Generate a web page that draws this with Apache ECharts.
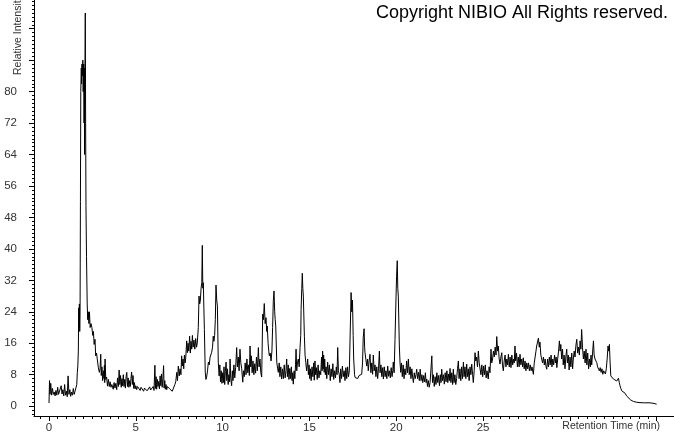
<!DOCTYPE html>
<html>
<head>
<meta charset="utf-8">
<script src="https://cdn.jsdelivr.net/npm/echarts@6/dist/echarts.min.js"></script>
<style>html,body{margin:0;padding:0;background:#fff}#c{width:674px;height:434px}</style>
</head>
<body>
<div id="c"></div>
<script>
// Retention time (min), relative intensity
const segStart = [[0,0.8],[0.03,6.5],[0.06,3.0],[0.1,5.8],[0.15,2.8],[0.2,4.5],[0.25,3.0],[0.3,3.6],[0.35,2.6],[0.4,4.0],[0.45,2.8],[0.5,4.8],[0.55,3.0],[0.6,3.5],[0.65,2.5],[0.7,5.2],[0.75,3.1],[0.8,4.2],[0.85,2.6],[0.9,5.5],[0.95,2.8],[1.0,3.8],[1.05,2.4],[1.1,7.7],[1.15,3.0],[1.2,4.2],[1.25,2.5],[1.3,3.6],[1.35,2.8],[1.4,4.5],[1.45,3.0],[1.5,3.8],[1.55,3.3],[1.6,5.5],[1.63,8.5],[1.66,10.2],[1.69,14],[1.71,25],[1.73,20],[1.75,26],[1.77,19],[1.79,24],[1.81,52],[1.83,80],[1.86,86],[1.88,82],[1.9,87],[1.92,84],[1.95,88],[1.97,80],[2.0,87],[2.02,72],[2.04,86],[2.05,64],[2.07,84],[2.09,100],[2.11,72],[2.13,51],[2.16,38],[2.2,26],[2.23,22],[2.26,24],[2.3,21],[2.33,24],[2.37,20],[2.42,21],[2.47,20],[2.52,18],[2.56,19]];
const segEarly = [[2.6,15.7],[2.65,17],[2.69,12.8],[2.74,13.5],[2.78,12],[2.84,9.9],[2.9,8.6],[2.94,9.5],[2.98,13.2],[3.01,7.8],[3.05,10],[3.09,6.5],[3.13,9],[3.17,7],[3.19,10.4],[3.21,6],[3.23,12],[3.27,6.8],[3.32,7.4],[3.37,5.1],[3.42,6.8],[3.47,5.0],[3.52,6.2],[3.57,4.8],[3.62,5.5],[3.7,4.3],[3.75,6.0],[3.8,4.6],[3.85,5.8],[3.9,4.2],[3.95,7.2],[4.0,5.0],[4.04,9.2],[4.08,5.5],[4.12,7.8],[4.16,4.8],[4.2,7.0],[4.24,5.2],[4.28,8.0],[4.32,5.0],[4.36,6.8],[4.4,4.6],[4.44,7.5],[4.48,8.6],[4.52,5.0],[4.56,7.2],[4.6,4.8],[4.64,6.5],[4.68,5.0],[4.72,7.0],[4.76,8.7],[4.8,5.5],[4.84,7.8],[4.88,4.5],[4.92,6.0],[4.96,4.4],[5.0,5.2],[5.05,4.2],[5.1,5.0],[5.15,4.5],[5.2,5.2],[5.25,4.0],[5.3,4.8],[5.35,4.3],[5.4,5.0],[5.45,3.8],[5.5,4.6],[5.55,4.2],[5.6,4.8],[5.65,3.9],[5.7,4.4],[5.75,4.0],[5.8,4.9],[5.85,4.1],[5.9,4.6],[5.95,4.2],[6.0,5.0],[6.05,4.0],[6.1,10.4],[6.13,4.5],[6.17,7.5],[6.2,4.3],[6.24,6.8],[6.28,5.0],[6.32,6.3],[6.36,4.4],[6.4,7.7],[6.44,5.2],[6.48,8.2],[6.52,4.8],[6.56,7.0],[6.6,10.3],[6.63,4.6],[6.67,6.5],[6.7,4.3],[6.74,5.5],[6.78,4.2],[6.82,5.0],[6.86,4.6],[6.9,5.2],[6.95,4.4],[7.0,4.8],[7.05,4.2],[7.1,3.8],[7.16,3.4],[7.2,4.2],[7.25,5.5],[7.3,6.2],[7.36,8.6],[7.4,6.5],[7.45,10.2],[7.5,7.7],[7.55,9.5],[7.6,8.0],[7.64,12.8],[7.68,10.2],[7.72,12.0],[7.76,9.5],[7.8,13.0],[7.84,11.0],[7.88,12.5],[7.93,16.6],[7.97,13.6],[8.01,16.0],[8.05,14.0],[8.1,17.8],[8.14,13.5],[8.18,16.5],[8.22,14.5],[8.26,18.0],[8.3,15.0],[8.35,16.8],[8.4,14.5],[8.45,17.2],[8.5,15.0],[8.54,16.0]];
const segMid = [[8.6,20],[8.64,28],[8.68,26],[8.72,27],[8.76,30],[8.8,31.4],[8.83,40.9],[8.86,30],[8.89,31.4],[8.92,25],[8.95,19.5],[9.0,8.6],[9.04,6.8],[9.08,7.4],[9.13,9.0],[9.18,11.2],[9.23,10.5],[9.28,12.5],[9.33,12.0],[9.37,13.7],[9.42,15.0],[9.46,17.8],[9.5,16.5],[9.54,18.0],[9.58,22],[9.62,30.8],[9.66,27],[9.7,25.5],[9.75,11.2],[9.8,7.7],[9.84,10.5],[9.88,6.2],[9.92,9.0],[9.96,5.8],[10.0,8.5],[10.04,6.0],[10.08,10.0],[10.12,5.5],[10.16,8.8],[10.2,11.2],[10.24,6.5],[10.28,9.5],[10.32,5.5],[10.36,8.0],[10.4,6.2],[10.43,12.0],[10.47,7.0],[10.52,5.2],[10.56,9.0],[10.6,6.5],[10.65,10.5],[10.7,7.2],[10.75,9.8],[10.81,14.9],[10.85,10.0],[10.9,12.5],[10.95,9.0],[11.0,14.5],[11.05,11.0],[11.1,9.5],[11.16,6.1],[11.2,9.0],[11.25,7.5],[11.3,11.0],[11.35,8.0],[11.4,12.0],[11.45,8.5],[11.5,10.5],[11.54,7.8],[11.58,15.3],[11.62,10.0],[11.66,12.8],[11.7,8.5],[11.75,11.5],[11.8,8.0],[11.85,10.8],[11.9,8.4],[11.95,12.5],[12.0,9.0],[12.06,14.9],[12.1,10.0],[12.15,12.0],[12.2,8.5],[12.25,7.4],[12.31,23.4],[12.35,22.0],[12.4,26.1],[12.45,21.0],[12.5,22.5],[12.54,19.0],[12.57,20.4],[12.62,16.0],[12.66,14.0],[12.69,12.8],[12.74,13.5],[12.79,11.5],[12.84,14.0],[12.88,20.0],[12.92,26.7],[12.96,29.3],[13.0,24.0],[13.03,22.0],[13.06,20.4],[13.12,11.2],[13.17,9.5],[13.21,8.6],[13.26,11.0],[13.3,7.5],[13.35,10.0],[13.4,6.9],[13.45,9.5],[13.5,7.0],[13.55,10.5],[13.6,7.2],[13.65,9.0],[13.69,12.0],[13.73,7.5],[13.78,10.5],[13.82,6.8],[13.87,9.6],[13.92,7.0],[13.96,10.0]];
const segLate = [[14.0,6.5],[14.04,8.5],[14.07,5.6],[14.12,9.0],[14.16,7.0],[14.2,10.5],[14.23,14.5],[14.27,9.0],[14.31,11.0],[14.36,12.0],[14.41,10.0],[14.46,14.9],[14.5,18],[14.52,24.6],[14.56,30],[14.59,33.8],[14.62,30],[14.65,28.0],[14.71,17.8],[14.75,13.0],[14.79,11.1],[14.84,9.0],[14.9,12.0],[14.94,8.0],[14.98,10.5],[15.02,7.0],[15.06,9.5],[15.1,6.5],[15.15,10.0],[15.2,7.5],[15.25,11.0],[15.28,6.6],[15.32,11.5],[15.36,8.0],[15.4,9.8],[15.45,6.8],[15.5,10.5],[15.55,7.2],[15.6,9.0],[15.65,8.0],[15.7,12.5],[15.73,9.0],[15.76,14.0],[15.79,9.5],[15.82,13.0],[15.85,8.6],[15.88,12.0],[15.92,8.0],[15.96,10.0],[16.0,7.0],[16.05,11.2],[16.1,8.0],[16.15,10.5],[16.2,6.5],[16.25,9.5],[16.3,7.5],[16.35,10.8],[16.4,6.8],[16.45,9.0],[16.5,7.2],[16.55,10.0],[16.59,8.0],[16.63,14.9],[16.67,9.0],[16.72,8.0],[16.76,6.0],[16.8,9.5],[16.85,7.0],[16.9,10.2],[16.95,7.5],[17.0,9.0],[17.05,6.5],[17.1,9.8],[17.15,7.0],[17.2,10.0],[17.25,7.5],[17.3,9.0],[17.35,8.5],[17.4,28.9],[17.44,24.0],[17.48,27.0],[17.52,18.0],[17.55,12.0],[17.6,8.0],[17.63,7.3],[17.7,7.6],[17.78,7.0],[17.86,7.8],[17.94,7.4],[18.01,8.1],[18.06,11.0],[18.1,17.5],[18.15,19.7],[18.18,15.0],[18.2,13.7],[18.25,12.0],[18.3,10.2],[18.35,12.0],[18.39,9.0],[18.44,11.5],[18.49,13.2],[18.54,8.5],[18.59,11.0],[18.64,8.1],[18.68,13.0],[18.73,9.0],[18.78,10.5],[18.83,7.5],[18.88,10.0],[18.93,7.0],[18.98,9.5],[19.03,14.0],[19.07,8.5],[19.12,10.5],[19.17,7.5],[19.22,9.8],[19.26,6.9],[19.31,10.0],[19.36,7.5],[19.41,9.0],[19.46,7.0],[19.51,10.2],[19.56,7.6],[19.61,9.0],[19.66,7.2],[19.71,9.8],[19.76,7.5],[19.8,9.0],[19.83,11.2],[19.88,8.5],[19.93,17.0],[19.99,28.0],[20.02,33],[20.06,37.0],[20.09,30],[20.12,28.0],[20.18,15.3],[20.22,11.0],[20.26,8.6]];
const segTail = [[20.3,11.0],[20.35,7.5],[20.4,10.5],[20.45,7.0],[20.5,9.5],[20.55,8.0],[20.6,11.5],[20.65,8.5],[20.7,12.0],[20.75,8.0],[20.8,10.0],[20.85,7.0],[20.9,9.5],[20.95,7.2],[20.99,6.0],[21.04,8.5],[21.09,7.0],[21.14,8.0],[21.18,9.4],[21.23,7.0],[21.28,8.6],[21.33,6.5],[21.38,9.4],[21.43,6.5],[21.48,8.0],[21.53,6.0],[21.58,7.8],[21.63,6.2],[21.68,8.5],[21.72,6.0],[21.76,6.9],[21.8,5.0],[21.85,6.5],[21.9,4.8],[21.95,6.0],[22.0,5.5],[22.05,12.8],[22.09,6.0],[22.14,8.0],[22.19,5.0],[22.24,7.5],[22.29,5.5],[22.34,8.5],[22.39,6.0],[22.44,7.8],[22.49,5.2],[22.54,8.0],[22.58,6.0],[22.62,9.4],[22.67,6.5],[22.72,8.0],[22.77,5.6],[22.82,8.5],[22.87,6.2],[22.92,9.0],[22.97,6.0],[23.02,8.2],[23.06,6.5],[23.1,9.6],[23.15,6.0],[23.2,8.5],[23.25,5.5],[23.29,9.4],[23.33,6.0],[23.38,8.0],[23.43,5.5],[23.48,7.0],[23.53,9.5],[23.58,11.5],[23.62,7.0],[23.67,9.5],[23.72,6.5],[23.77,10.0],[23.82,7.0],[23.87,11.2],[23.91,7.5],[23.96,10.0],[24.01,7.0],[24.06,10.7],[24.1,7.5],[24.15,9.5],[24.2,6.5],[24.25,10.0],[24.3,8.0],[24.35,10.7],[24.4,8.0],[24.44,6.0],[24.49,9.0],[24.54,13.6],[24.58,11.5],[24.63,12.5],[24.68,10.0],[24.73,14.0],[24.78,11.0],[24.83,10.7],[24.88,8.0],[24.93,10.5],[24.98,7.5],[25.03,10.2],[25.08,8.0],[25.13,10.5],[25.18,7.2],[25.23,9.0],[25.3,6.9],[25.35,10.0],[25.4,8.5],[25.46,14.5],[25.5,11.0],[25.55,12.0],[25.6,14.0],[25.65,12.5],[25.7,15.0],[25.75,13.0],[25.79,17.7],[25.84,14.0],[25.88,15.3],[25.93,12.0],[25.98,10.7]];
const segHump = [[26.03,12.5],[26.08,13.6],[26.12,10.5],[26.17,9.0],[26.22,11.5],[26.27,13.0],[26.32,10.0],[26.37,12.0],[26.42,10.5],[26.46,13.2],[26.51,10.0],[26.56,12.5],[26.61,9.8],[26.66,13.0],[26.71,10.5],[26.76,12.0],[26.8,11.0],[26.84,15.3],[26.88,11.5],[26.93,13.5],[26.98,10.0],[27.03,12.5],[27.08,10.0],[27.13,13.2],[27.18,10.5],[27.23,12.0],[27.28,10.0],[27.32,12.3],[27.37,9.5],[27.42,11.5],[27.47,9.0],[27.52,11.0],[27.57,9.5],[27.62,11.0],[27.67,9.0],[27.72,10.5],[27.77,9.0],[27.82,10.0],[27.9,8.1],[27.95,11.0],[28.0,12.5],[28.05,14.0],[28.09,15.3],[28.14,15.0],[28.19,17.3],[28.24,15.0],[28.28,16.3],[28.33,13.0],[28.38,13.2],[28.43,11.0],[28.48,12.5],[28.53,10.5],[28.58,12.0],[28.63,10.0],[28.67,9.4],[28.72,12.0],[28.77,10.0],[28.82,12.5],[28.87,10.5],[28.92,13.0],[28.97,10.0],[29.02,12.0],[29.07,10.5],[29.12,13.0],[29.17,11.0],[29.21,12.5],[29.25,9.8],[29.3,12.0],[29.35,14.0],[29.4,16.6],[29.44,14.0],[29.48,15.7],[29.53,12.0],[29.58,14.5],[29.62,10.5],[29.67,13.0],[29.72,9.5],[29.77,12.5],[29.82,14.5],[29.86,11.0],[29.91,13.0],[29.96,9.2],[30.01,12.5],[30.06,10.0],[30.11,13.5],[30.16,9.5],[30.2,12.0],[30.25,14.0],[30.3,12.5],[30.35,15.5],[30.4,17.0],[30.45,13.5],[30.5,15.0],[30.55,13.0],[30.59,16.6],[30.64,14.5],[30.68,19.5],[30.73,15.0],[30.78,12.0],[30.83,14.0],[30.88,11.0],[30.93,14.5],[30.98,10.5],[31.03,13.5],[31.08,9.5],[31.13,12.0],[31.18,10.0],[31.22,13.0],[31.26,10.5],[31.31,13.5],[31.36,16.6],[31.4,13.0],[31.45,12.0],[31.5,11.5],[31.55,11.1],[31.6,10.0],[31.65,10.5],[31.7,9.0],[31.75,9.8],[31.8,8.6],[31.85,9.5],[31.9,8.1],[31.95,9.0],[32.0,8.5]];
const segEnd = [[32.05,8.2],[32.1,9.5],[32.15,12.0],[32.2,15.3],[32.24,14.0],[32.28,15.7],[32.32,11.0],[32.36,7.7],[32.42,7.5],[32.51,6.9],[32.6,6.6],[32.7,6.4],[32.8,7.1],[32.85,6.0],[32.89,5.2],[32.94,4.5],[32.99,3.9],[33.08,3.5],[33.18,3.3],[33.27,2.6],[33.37,2.2],[33.5,1.6],[33.66,1.2],[33.85,1.0],[34.04,0.9],[34.3,0.85],[34.62,0.85],[34.85,0.7],[35.0,0.5]];

const xMajorTicks = [0, 5, 10, 15, 20, 25, 30, 35];
const xTickLabels = [0, 5, 10, 15, 20, 25];
const yMajorTicks = [0, 8, 16, 24, 32, 40, 48, 56, 64, 72, 80, 88, 96];
const yTickLabels = [0, 8, 16, 24, 32, 40, 48, 56, 64, 72, 80];

const trace = [].concat(segStart, segEarly, segMid, segLate, segTail, segHump, segEnd);

const xMinor = [];
for (let v = -0.5; v <= 35.01; v += 0.5) xMinor.push(Math.round(v * 10) / 10);
const yMinor = [];
for (let v = -2; v <= 103; v += 1) yMinor.push(v);

const XMIN = -0.864, XMAX = 36.0, YMIN = -2.5, YMAX = 103.3;
const FONT = '"Liberation Sans", Arial, sans-serif';
const chart = echarts.init(document.getElementById('c'), null, {renderer: 'canvas'});
chart.setOption({
  animation: false,
  backgroundColor: '#ffffff',
  grid: {left: 34, right: 0, top: 0, bottom: 17, containLabel: false},
  xAxis: [{
    type: 'value', position: 'bottom', min: XMIN, max: XMAX,
    name: 'Retention Time (min)', nameLocation: 'end', nameGap: -14,
    nameTextStyle: {align: 'right', verticalAlign: 'top', padding: [5, 0, 0, 0], fontSize: 10.5, color: '#333', fontFamily: FONT},
    axisLine: {onZero: false, lineStyle: {color: '#000', width: 1}},
    axisTick: {customValues: xMajorTicks, length: 5, lineStyle: {color: '#000'}},
    axisLabel: {customValues: xTickLabels, margin: 6, fontSize: 11.5, color: '#333', fontFamily: FONT},
    splitLine: {show: false}
  }, {
    type: 'value', position: 'bottom', min: XMIN, max: XMAX,
    axisLine: {show: false, onZero: false},
    axisTick: {customValues: xMinor, length: 3, lineStyle: {color: '#000'}},
    axisLabel: {show: false},
    splitLine: {show: false}
  }],
  yAxis: [{
    type: 'value', position: 'left', min: YMIN, max: YMAX,
    axisLine: {show: true, onZero: false, lineStyle: {color: '#000', width: 1}},
    axisTick: {show: true, customValues: yMajorTicks, length: 5, lineStyle: {color: '#000'}},
    axisLabel: {customValues: yTickLabels, margin: 17, fontSize: 11.5, color: '#333', fontFamily: FONT},
    splitLine: {show: false}
  }, {
    type: 'value', position: 'left', min: YMIN, max: YMAX,
    axisLine: {show: false, onZero: false},
    axisTick: {show: true, customValues: yMinor, length: 2, lineStyle: {color: '#000'}},
    axisLabel: {show: false},
    splitLine: {show: false}
  }],
  graphic: [{
    type: 'text', right: 6, top: 4,
    style: {text: 'Copyright NIBIO All Rights reserved.', font: 'normal 18px ' + FONT, fill: '#000'}
  }, {
    type: 'text', x: 18, y: 75, rotation: Math.PI / 2,
    style: {text: 'Relative Intensity', font: 'normal 10.5px ' + FONT, fill: '#333', align: 'left', verticalAlign: 'middle'}
  }],
  series: [{
    type: 'line', xAxisIndex: 0, yAxisIndex: 0, data: trace,
    showSymbol: false, symbol: 'none', sampling: null,
    lineStyle: {color: '#000', width: 1}, clip: true
  }]
});
</script>
</body>
</html>
